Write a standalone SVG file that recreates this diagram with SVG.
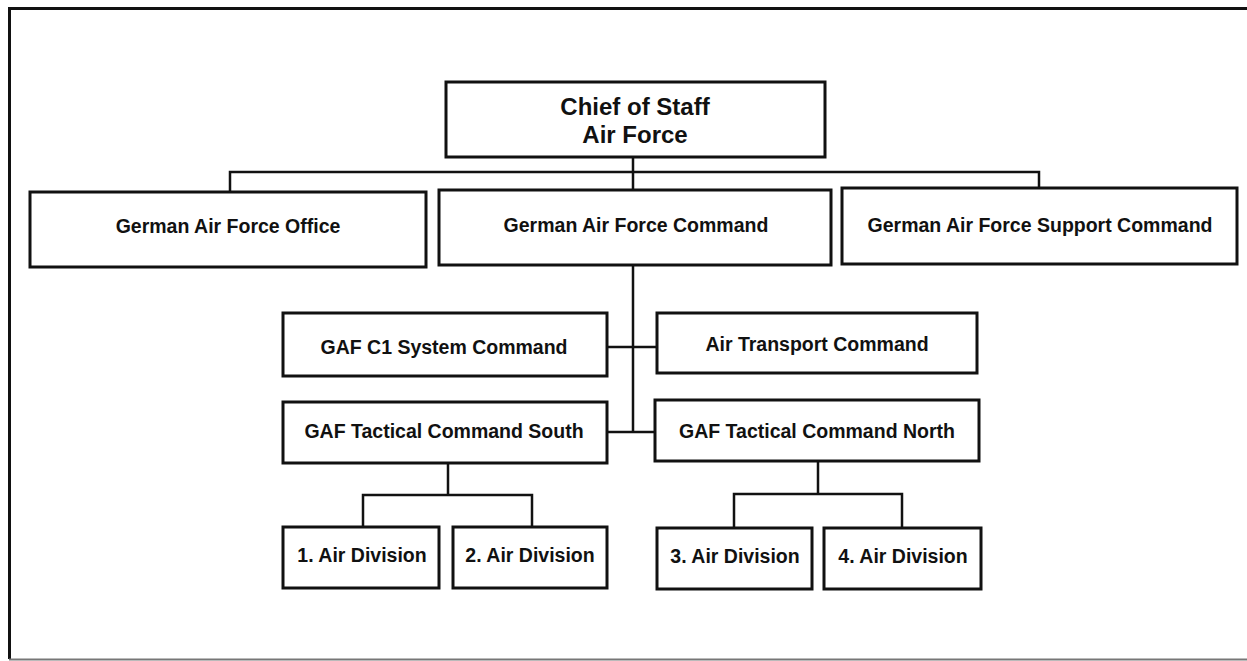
<svg xmlns="http://www.w3.org/2000/svg" width="1247" height="661" viewBox="0 0 1247 661">
<style>
.box{fill:#fff;stroke:#111;stroke-width:3}
.t{font-family:"Liberation Sans",Arial,sans-serif;font-weight:bold;font-size:19.5px;fill:#111;text-anchor:middle}
.big{font-size:24px}
.c{fill:none;stroke:#111;stroke-width:2.5}
</style>
<rect width="1247" height="661" fill="#fff"/>
<g id="frame">
<path d="M9.5 659V8.5H1247" fill="none" stroke="#111" stroke-width="3"/>
<path d="M9 659.5H1247" fill="none" stroke="#777" stroke-width="2"/>
</g>
<g id="connectors">
<path class="c" d="M633 157V190M230 192V172H1039V188"/>
<path class="c" d="M633 265V432M607 347H657M607 432H655"/>
<path class="c" d="M448 463V495M363 527V495H532V527"/>
<path class="c" d="M818 461V494M734 528V494H902V528"/>
</g>
<g id="chief"><rect class="box" x="446" y="82" width="379" height="75"/><text class="t big" x="635" y="115">Chief of Staff</text><text class="t big" x="635" y="143">Air Force</text></g>
<g id="office"><rect class="box" x="30" y="192" width="396" height="75"/><text class="t" x="228" y="233">German Air Force Office</text></g>
<g id="command"><rect class="box" x="439" y="190" width="392" height="75"/><text class="t" x="636" y="232">German Air Force Command</text></g>
<g id="support"><rect class="box" x="842" y="188" width="395" height="76"/><text class="t" x="1040" y="232">German Air Force Support Command</text></g>
<g id="c1"><rect class="box" x="283" y="313" width="324" height="63"/><text class="t" x="444" y="354">GAF C1 System Command</text></g>
<g id="transport"><rect class="box" x="657" y="313" width="320" height="60"/><text class="t" x="817" y="351">Air Transport Command</text></g>
<g id="south"><rect class="box" x="283" y="402" width="324" height="61"/><text class="t" x="444" y="438">GAF Tactical Command South</text></g>
<g id="north"><rect class="box" x="655" y="400" width="324" height="61"/><text class="t" x="817" y="438">GAF Tactical Command North</text></g>
<g id="div1"><rect class="box" x="283" y="527" width="156" height="61"/><text class="t" x="362" y="562">1. Air Division</text></g>
<g id="div2"><rect class="box" x="453" y="527" width="154" height="61"/><text class="t" x="530" y="562">2. Air Division</text></g>
<g id="div3"><rect class="box" x="657" y="528" width="155" height="61"/><text class="t" x="735" y="563">3. Air Division</text></g>
<g id="div4"><rect class="box" x="824" y="528" width="157" height="61"/><text class="t" x="903" y="563">4. Air Division</text></g>
</svg>
